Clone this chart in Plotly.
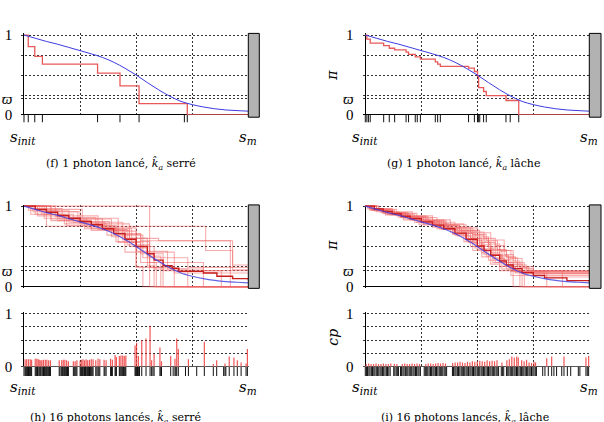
import plotly.graph_objects as go

W, H = 604, 422

# ---------------- data ----------------
blue_x = [0.0, 0.05, 0.1, 0.15, 0.2, 0.25, 0.3, 0.35, 0.4, 0.45, 0.5, 0.55, 0.6, 0.65, 0.7, 0.75, 0.8, 0.85, 0.9, 0.95, 1.0]
blue_y = [1.0, 0.96, 0.92, 0.885, 0.845, 0.805, 0.765, 0.72, 0.66, 0.585, 0.5, 0.405, 0.315, 0.235, 0.17, 0.13, 0.1, 0.078, 0.063, 0.055, 0.048]

f_drop_x = [0.019, 0.048, 0.082, 0.328, 0.428, 0.513, 0.728]
f_level = [0.855, 0.734, 0.637, 0.524, 0.363, 0.141, 0.0]
f_events = [0.0, 0.019, 0.048, 0.082, 0.328, 0.428, 0.513, 0.715, 0.728]

g_drop_x = [0.007, 0.022, 0.082, 0.107, 0.131, 0.182, 0.193, 0.223, 0.246, 0.3125, 0.323, 0.335,
            0.461, 0.487, 0.501, 0.506, 0.528, 0.54, 0.628, 0.685]
g_level = [0.948, 0.9, 0.867, 0.835, 0.815, 0.786, 0.758, 0.726, 0.698, 0.665, 0.637, 0.609,
           0.585, 0.544, 0.484, 0.343, 0.294, 0.242, 0.181, 0.0]
g_events = [0.0, 0.007, 0.014, 0.022, 0.082, 0.107, 0.131, 0.182, 0.193, 0.223, 0.232, 0.246, 0.3125,
            0.323, 0.335, 0.461, 0.487, 0.501, 0.506, 0.511, 0.528, 0.54, 0.628, 0.647, 0.685]

h_drops = [
    [0.56],
    [0.06, 0.33, 0.81, 0.93],
    [0.09, 0.19, 0.41, 0.52, 0.93],
    [0.04, 0.12, 0.27, 0.42, 0.5, 0.67],
    [0.1, 0.3, 0.45, 0.55, 0.61],
    [0.14, 0.2, 0.36, 0.47, 0.58, 0.8],
    [0.02, 0.15, 0.3, 0.48, 0.52, 0.59],
    [0.06, 0.2, 0.39, 0.45, 0.67],
    [0.12, 0.25, 0.37, 0.53, 0.73],
    [0.08, 0.22, 0.44, 0.5, 0.53],
    [0.03, 0.17, 0.32, 0.47, 0.6, 0.92],
    [0.12, 0.28, 0.41, 0.56, 0.8],
    [0.07, 0.24, 0.38, 0.5, 0.64, 0.73],
    [0.05, 0.18, 0.33, 0.46, 0.56, 0.62],
    [0.1, 0.26, 0.42, 0.52, 0.62, 0.88],
    [0.03, 0.16, 0.35, 0.5, 0.55, 0.58],
]
h_levels = [
    [0.0],
    [0.88, 0.75, 0.45, 0.27],
    [0.85, 0.76, 0.66, 0.57, 0.21],
    [0.93, 0.82, 0.72, 0.55, 0.24, 0.17],
    [0.75, 0.7, 0.6, 0.38, 0.0],
    [0.87, 0.8, 0.7, 0.5, 0.22, 0.0],
    [0.95, 0.82, 0.72, 0.55, 0.3, 0.0],
    [0.95, 0.84, 0.62, 0.43, 0.0],
    [0.93, 0.78, 0.64, 0.36, 0.24],
    [0.9, 0.8, 0.58, 0.25, 0.0],
    [0.97, 0.86, 0.78, 0.6, 0.57, 0.0],
    [0.84, 0.74, 0.56, 0.3, 0.2],
    [0.93, 0.81, 0.69, 0.44, 0.22, 0.0],
    [0.9, 0.78, 0.71, 0.52, 0.24, 0.0],
    [0.96, 0.85, 0.65, 0.41, 0.2, 0.0],
    [0.9, 0.84, 0.73, 0.48, 0.26, 0.0],
]
h_mean_x = [0.0, 0.05, 0.1, 0.15, 0.2, 0.25, 0.3, 0.35, 0.4, 0.45, 0.5, 0.55, 0.58, 0.62, 0.66, 0.69, 0.8, 0.86, 0.93, 1.0]
h_mean_y = [1.0, 0.96, 0.925, 0.885, 0.85, 0.81, 0.77, 0.72, 0.66, 0.59, 0.5, 0.41, 0.33, 0.26, 0.23, 0.19, 0.17, 0.13, 0.1, 0.08]

h_bar_x = [0.005, 0.012, 0.02, 0.028, 0.034, 0.05, 0.057, 0.063, 0.068, 0.075, 0.08, 0.087, 0.095, 0.102,
           0.11, 0.118, 0.157, 0.168, 0.175, 0.182, 0.19, 0.198, 0.22, 0.228, 0.236, 0.25, 0.257, 0.263,
           0.27, 0.277, 0.284, 0.292, 0.3, 0.308, 0.32, 0.33, 0.338, 0.357, 0.366, 0.386, 0.394, 0.406,
           0.412, 0.425, 0.432, 0.44, 0.447, 0.454, 0.495, 0.502, 0.51, 0.525, 0.544, 0.562, 0.569, 0.58,
           0.606, 0.613, 0.654, 0.673, 0.681, 0.688, 0.733, 0.804, 0.844, 0.859, 0.896, 0.915, 0.936,
           0.951, 0.968, 0.99, 0.996]
h_bar_h = [0.14, 0.14, 0.14, 0.14, 0.13, 0.15, 0.15, 0.14, 0.13, 0.12, 0.12, 0.13, 0.13, 0.13,
           0.12, 0.12, 0.12, 0.12, 0.13, 0.13, 0.12, 0.1, 0.1, 0.1, 0.12, 0.11, 0.13, 0.14,
           0.12, 0.14, 0.12, 0.13, 0.14, 0.14, 0.12, 0.15, 0.14, 0.13, 0.12, 0.15, 0.13, 0.22,
           0.18, 0.2, 0.21, 0.21, 0.2, 0.21, 0.4, 0.45, 0.2, 0.5, 0.53, 0.77, 0.12, 0.24,
           0.36, 0.1, 0.2, 0.15, 0.53, 0.33, 0.14, 0.47, 0.05, 0.12, 0.06, 0.19, 0.17,
           0.12, 0.08, 0.06, 0.33]
h_extra_events = [0.0, 0.008, 0.016, 0.024, 0.031, 0.054, 0.06, 0.072, 0.084, 0.091, 0.099, 0.106, 0.114,
                  0.161, 0.171, 0.179, 0.186, 0.194, 0.224, 0.232, 0.253, 0.26, 0.267, 0.274, 0.281, 0.288,
                  0.296, 0.304, 0.325, 0.334, 0.361, 0.39, 0.409, 0.428, 0.436, 0.444, 0.451, 0.498, 0.506,
                  0.515, 0.575, 0.61, 0.665, 0.677, 0.72, 0.77, 0.89, 0.9]

i_drops = [
    [0.03, 0.08, 0.15, 0.22, 0.3, 0.36, 0.44, 0.5, 0.55, 0.6, 0.64, 0.68],
    [0.02, 0.1, 0.17, 0.25, 0.33, 0.4, 0.46, 0.5, 0.54, 0.58, 0.63, 0.66],
    [0.05, 0.12, 0.2, 0.27, 0.35, 0.42, 0.49, 0.53, 0.58, 0.65, 0.7, 0.75],
    [0.04, 0.09, 0.16, 0.23, 0.31, 0.38, 0.45, 0.51, 0.56, 0.61, 0.66, 0.7],
    [0.01, 0.07, 0.14, 0.21, 0.29, 0.37, 0.43, 0.48, 0.52, 0.57, 0.62, 0.67, 0.71],
    [0.06, 0.13, 0.19, 0.26, 0.34, 0.41, 0.47, 0.52, 0.55, 0.6, 0.65, 0.81],
    [0.03, 0.1, 0.18, 0.28, 0.36, 0.44, 0.5, 0.56, 0.62, 0.66, 0.69, 0.73],
    [0.02, 0.08, 0.15, 0.22, 0.3, 0.39, 0.45, 0.49, 0.53, 0.57, 0.61, 0.65],
    [0.05, 0.11, 0.2, 0.28, 0.36, 0.43, 0.49, 0.55, 0.59, 0.64, 0.68, 0.88],
    [0.04, 0.12, 0.21, 0.3, 0.38, 0.45, 0.51, 0.55, 0.6, 0.63, 0.68, 0.72],
    [0.03, 0.09, 0.17, 0.24, 0.32, 0.39, 0.44, 0.48, 0.52, 0.56, 0.6, 0.7],
    [0.06, 0.14, 0.23, 0.32, 0.4, 0.47, 0.53, 0.58, 0.62, 0.66, 0.7, 0.74],
    [0.02, 0.07, 0.13, 0.19, 0.26, 0.33, 0.41, 0.47, 0.52, 0.56, 0.6, 0.64, 0.67],
    [0.05, 0.1, 0.18, 0.25, 0.34, 0.42, 0.48, 0.53, 0.58, 0.62, 0.66, 0.69],
    [0.04, 0.11, 0.19, 0.27, 0.35, 0.42, 0.48, 0.54, 0.59, 0.63, 0.67, 0.71, 0.75],
    [0.03, 0.08, 0.16, 0.24, 0.31, 0.39, 0.46, 0.51, 0.56, 0.61, 0.65, 0.69, 0.8],
]
i_levels = [
    [0.97, 0.93, 0.9, 0.85, 0.8, 0.74, 0.68, 0.6, 0.5, 0.38, 0.27, 0.19],
    [0.95, 0.9, 0.85, 0.79, 0.72, 0.64, 0.55, 0.46, 0.38, 0.3, 0.22, 0.0],
    [0.96, 0.91, 0.86, 0.81, 0.76, 0.7, 0.64, 0.55, 0.45, 0.35, 0.25, 0.17],
    [0.94, 0.9, 0.86, 0.8, 0.75, 0.68, 0.6, 0.52, 0.4, 0.3, 0.2, 0.16],
    [0.97, 0.92, 0.88, 0.83, 0.78, 0.72, 0.66, 0.57, 0.47, 0.35, 0.25, 0.18, 0.0],
    [0.95, 0.89, 0.84, 0.77, 0.71, 0.63, 0.5, 0.42, 0.33, 0.25, 0.19, 0.0],
    [0.96, 0.92, 0.87, 0.82, 0.78, 0.73, 0.67, 0.58, 0.45, 0.32, 0.24, 0.2],
    [0.96, 0.91, 0.86, 0.8, 0.74, 0.66, 0.57, 0.48, 0.4, 0.3, 0.22, 0.14],
    [0.93, 0.89, 0.83, 0.78, 0.73, 0.67, 0.58, 0.48, 0.39, 0.3, 0.2, 0.0],
    [0.97, 0.93, 0.88, 0.83, 0.77, 0.7, 0.62, 0.53, 0.44, 0.36, 0.27, 0.18],
    [0.95, 0.89, 0.83, 0.77, 0.72, 0.65, 0.56, 0.45, 0.37, 0.28, 0.2, 0.0],
    [0.96, 0.91, 0.86, 0.8, 0.74, 0.68, 0.6, 0.51, 0.4, 0.28, 0.22, 0.16],
    [0.97, 0.94, 0.9, 0.87, 0.82, 0.76, 0.69, 0.6, 0.5, 0.42, 0.33, 0.24, 0.17],
    [0.95, 0.91, 0.86, 0.8, 0.73, 0.66, 0.54, 0.45, 0.36, 0.27, 0.21, 0.0],
    [0.96, 0.92, 0.88, 0.83, 0.77, 0.72, 0.65, 0.57, 0.46, 0.37, 0.3, 0.23, 0.19],
    [0.95, 0.92, 0.87, 0.82, 0.77, 0.7, 0.63, 0.55, 0.46, 0.34, 0.25, 0.18, 0.12],
]
i_mean_x = [0.0, 0.04, 0.08, 0.12, 0.16, 0.2, 0.25, 0.3, 0.35, 0.4, 0.45, 0.5, 0.53, 0.56, 0.6, 0.63, 0.66, 0.7, 0.75, 0.8, 0.9, 1.0]
i_mean_y = [1.0, 0.965, 0.935, 0.905, 0.875, 0.845, 0.805, 0.765, 0.72, 0.665, 0.59, 0.505, 0.45, 0.39, 0.32, 0.27, 0.225, 0.175, 0.14, 0.11, 0.075, 0.058]

i_bar_x = [0.004, 0.015, 0.026, 0.037, 0.048, 0.059, 0.07, 0.081, 0.092, 0.103, 0.114, 0.13, 0.141, 0.165,
           0.176, 0.187, 0.198, 0.209, 0.22, 0.231, 0.242, 0.27, 0.281, 0.292, 0.303, 0.314, 0.325, 0.336,
           0.347, 0.358, 0.39, 0.401, 0.412, 0.423, 0.434, 0.445, 0.456, 0.467, 0.478, 0.489, 0.5, 0.511,
           0.522, 0.533, 0.544, 0.555, 0.566, 0.577, 0.588, 0.61, 0.632, 0.643, 0.654, 0.665, 0.676, 0.683,
           0.698, 0.709, 0.72, 0.731, 0.742, 0.753, 0.76, 0.81, 0.832, 0.887, 0.985, 0.997]
i_bar_h = [0.05, 0.06, 0.05, 0.05, 0.06, 0.05, 0.05, 0.06, 0.05, 0.05, 0.06, 0.05, 0.05, 0.05,
           0.06, 0.05, 0.05, 0.06, 0.05, 0.06, 0.05, 0.05, 0.06, 0.06, 0.05, 0.06, 0.07, 0.06,
           0.07, 0.06, 0.07, 0.08, 0.08, 0.09, 0.08, 0.07, 0.09, 0.08, 0.1, 0.09, 0.1, 0.11,
           0.1, 0.09, 0.12, 0.1, 0.11, 0.1, 0.12, 0.08, 0.12, 0.14, 0.19, 0.17, 0.19, 0.17,
           0.12, 0.1, 0.13, 0.08, 0.07, 0.09, 0.08, 0.16, 0.19, 0.19, 0.17, 0.2]
i_events = [0.000, 0.005, 0.010, 0.016, 0.021, 0.027, 0.032, 0.038, 0.043, 0.049, 0.054, 0.060, 0.066,
            0.071, 0.077, 0.082, 0.088, 0.094, 0.099, 0.105, 0.111,
            0.127, 0.132, 0.138, 0.143, 0.148,
            0.157, 0.162, 0.168, 0.173, 0.179, 0.185, 0.190, 0.196, 0.201, 0.207, 0.213, 0.218, 0.224,
            0.229, 0.235, 0.240, 0.246,
            0.263, 0.268, 0.274, 0.279, 0.285, 0.291, 0.296, 0.302, 0.307, 0.313, 0.318, 0.324, 0.330,
            0.335, 0.341, 0.346, 0.352, 0.357, 0.363,
            0.389, 0.394, 0.400, 0.405, 0.411, 0.416, 0.422, 0.428, 0.433, 0.439, 0.444, 0.450, 0.455,
            0.461, 0.467, 0.472, 0.478, 0.483, 0.489, 0.494, 0.500, 0.506, 0.511, 0.517, 0.522, 0.528,
            0.533, 0.539, 0.545, 0.550, 0.556, 0.561, 0.567, 0.573, 0.578, 0.584, 0.589, 0.595,
            0.607, 0.612, 0.618,
            0.630, 0.636, 0.641, 0.647, 0.652, 0.658, 0.664, 0.669, 0.675, 0.680, 0.686, 0.692, 0.697,
            0.703, 0.708, 0.714, 0.720, 0.725, 0.731, 0.736, 0.742, 0.748, 0.753, 0.759, 0.764,
            0.792, 0.802, 0.817, 0.832, 0.842, 0.854, 0.877, 0.887, 0.902, 0.917, 0.951, 0.958, 0.985,
            0.991, 0.997]

y_ticks_main = [0, 0.2, 1]
y_text_main = ["0", "<i>ϖ</i>", "1"]
y_ticks_cp = [0, 1]
y_text_cp = ["0", "1"]
y_grid_minor = [0.25, 0.5, 0.75]
x_grid_main = [0.25, 0.5, 0.75]
x_grid_cp = [0.25, 0.5, 0.75, 1.0]

captions = [
    "(f) 1 photon lancé, <i>k\u0302</i><sub><i>a</i></sub> serré",
    "(g) 1 photon lancé, <i>k\u0302</i><sub><i>a</i></sub> lâche",
    "(h) 16 photons lancés, <i>k\u0302</i><sub><i>a</i></sub> serré",
    "(i) 16 photons lancés, <i>k\u0302</i><sub><i>a</i></sub> lâche",
]

# ---------------- styling / layout helpers ----------------
SERIF = "DejaVu Serif"
TICKFONT = "Liberation Serif, DejaVu Serif"
RED = "rgb(232,88,88)"
LIGHT_RED = "rgba(240,105,105,0.55)"
DARK_RED = "rgb(200,30,30)"
BLUE = "rgb(60,60,225)"
GRID = "#333333"


def xdom(p0, p1, r):
    s = p1 - p0
    return [(p0 + r[0] * s) / W, (p0 + r[1] * s) / W]


def ydom(p0, p1, r):
    s = p0 - p1
    bot = p0 - r[0] * s
    top = p0 - r[1] * s
    return [1 - bot / H, 1 - top / H]


def ax(n, letter):
    return letter if n == 1 else f"{letter}{n}"


def step_xy(drops, levels):
    return [0.0] + list(drops) + [1.0], [1.0] + list(levels) + [levels[-1]]


def segments(xs, y0s, y1s):
    X, Y = [], []
    for x, a, b in zip(xs, y0s, y1s):
        X += [x, x, None]
        Y += [a, b, None]
    return X, Y


XL = {"L": (24.0, 248.3), "R": (365.3, 589.3)}
XR_MAIN = [-0.012, 1.0]
XR_CP = [-0.012, 1.004]
YR = [-0.02, 1.02]

panels = {
    1: ("L", 111.7, 29.0, "main"),
    2: ("R", 111.7, 29.0, "main"),
    3: ("L", 289.3, 206.0, "main"),
    4: ("R", 289.3, 206.0, "main"),
    5: ("L", 372.0, 317.0, "cp"),
    6: ("R", 372.0, 317.0, "cp"),
    7: ("L", 119.5, 111.7, "strip"),
    8: ("R", 119.5, 111.7, "strip"),
    9: ("L", 381.7, 372.0, "strip"),
    10: ("R", 381.7, 372.0, "strip"),
}

layout = dict(
    width=W, height=H, margin=dict(l=0, r=0, t=0, b=0),
    paper_bgcolor="white", plot_bgcolor="white", showlegend=False,
    font=dict(family=SERIF, color="black"),
)

GRIDSTYLE = dict(showgrid=True, gridcolor=GRID, griddash="2px,2px", gridwidth=1)

for n, (col, yp0, yp1, kind) in panels.items():
    xp0, xp1 = XL[col]
    xr = XR_MAIN if kind == "main" else XR_CP
    yr = YR if kind != "strip" else [0, 1]
    xa = dict(domain=xdom(xp0, xp1, xr), range=xr, anchor=ax(n, "y"), fixedrange=True)
    ya = dict(domain=ydom(yp0, yp1, yr), range=yr, anchor=ax(n, "x"), fixedrange=True)
    if kind == "strip":
        xa["visible"] = False
        ya["visible"] = False
    else:
        common = dict(zeroline=True, zerolinecolor="black", zerolinewidth=1.3,
                      showline=False, ticks="", **GRIDSTYLE)
        xa.update(common)
        xa.update(tickvals=x_grid_main if kind == "main" else x_grid_cp, showticklabels=False)
        ya.update(common)
        if kind == "main":
            ya.update(tickvals=y_ticks_main, ticktext=y_text_main)
        else:
            ya.update(tickvals=y_ticks_cp, ticktext=y_text_cp)
        ya.update(minor=dict(tickvals=y_grid_minor, ticks="", **GRIDSTYLE),
                  tickfont=dict(family=TICKFONT, size=15, color="black"), ticklabelstandoff=8)
    layout["xaxis" if n == 1 else f"xaxis{n}"] = xa
    layout["yaxis" if n == 1 else f"yaxis{n}"] = ya

fig = go.Figure(layout=layout)


def add(n, **kw):
    fig.add_trace(go.Scatter(xaxis=ax(n, "x"), yaxis=ax(n, "y"), mode="lines",
                             hoverinfo="skip", **kw))


for n, drops, levels, ev, stripn in [(1, f_drop_x, f_level, f_events, 7),
                                     (2, g_drop_x, g_level, g_events, 8)]:
    sx, sy = step_xy(drops, levels)
    add(n, x=sx, y=sy, line=dict(color=RED, width=1.3, shape="hv"))
    add(n, x=blue_x, y=blue_y, line=dict(color=BLUE, width=1, shape="spline", smoothing=1))
    tx, ty = segments(ev, [0] * len(ev), [1] * len(ev))
    add(stripn, x=tx, y=ty, line=dict(color="#111111", width=1))

for n, drops_l, levels_l, mx, my, bx, bh, ev, cpn, stripn in [
    (3, h_drops, h_levels, h_mean_x, h_mean_y, h_bar_x, h_bar_h,
     sorted(set(h_bar_x + h_extra_events)), 5, 9),
    (4, i_drops, i_levels, i_mean_x, i_mean_y, i_bar_x, i_bar_h, i_events, 6, 10),
]:
    for d, l in zip(drops_l, levels_l):
        sx, sy = step_xy(d, l)
        add(n, x=sx, y=sy, line=dict(color=LIGHT_RED, width=1.1, shape="hv"))
    add(n, x=mx, y=my, line=dict(color=DARK_RED, width=1.4, shape="hv"))
    add(n, x=blue_x, y=blue_y, line=dict(color="rgba(60,60,225,0.8)", width=1.2,
                                         shape="spline", smoothing=1))
    cx, cy = segments(bx, [0] * len(bx), bh)
    add(cpn, x=cx, y=cy, line=dict(color="rgba(235,45,45,0.8)", width=1.2))
    tx, ty = segments(ev, [0] * len(ev), [1] * len(ev))
    add(stripn, x=tx, y=ty, line=dict(color="#111111", width=1))

for x0, x1, y0, y1 in [(248.3, 259.3, 27.3, 114.0), (589.3, 601.0, 27.3, 114.0),
                       (248.3, 259.3, 204.7, 291.0), (589.3, 601.0, 204.7, 291.0)]:
    fig.add_shape(type="rect", xref="paper", yref="paper",
                  x0=x0 / W, x1=x1 / W, y0=1 - y1 / H, y1=1 - y0 / H,
                  fillcolor="rgb(178,178,178)", line=dict(color="black", width=1))


def note(text, px, py, size, angle=0, yanchor="middle"):
    fig.add_annotation(text=text, x=px / W, y=1 - py / H, xref="paper", yref="paper",
                       showarrow=False, xanchor="center", yanchor=yanchor, textangle=angle,
                       font=dict(family=SERIF, size=size, color="black"))


S_INIT = "<i>s</i><sub><i>init</i></sub>"
S_M = "<i>s</i><sub><i>m</i></sub>"
for (xl, xr_), yy in [((23, 248), 135), ((365, 589), 135), ((23, 248), 394), ((365, 589), 394)]:
    note(S_INIT, xl, yy, 15)
    note(S_M, xr_, yy, 15)

note(captions[0], 121, 162, 11)
note(captions[1], 463, 162, 11)
note(captions[2], 115, 415, 11, yanchor="top")
note(captions[3], 465, 415, 11, yanchor="top")

note("<i>π</i>", 332, 71, 14, -90)
note("<i>π</i>", 332, 247, 14, -90)
note("<i>cp</i>", 333, 342, 14, -90)

fig.write_html("out.html", config={"displayModeBar": False},
               post_script="document.body.style.margin='0';document.body.style.overflow='hidden';")
